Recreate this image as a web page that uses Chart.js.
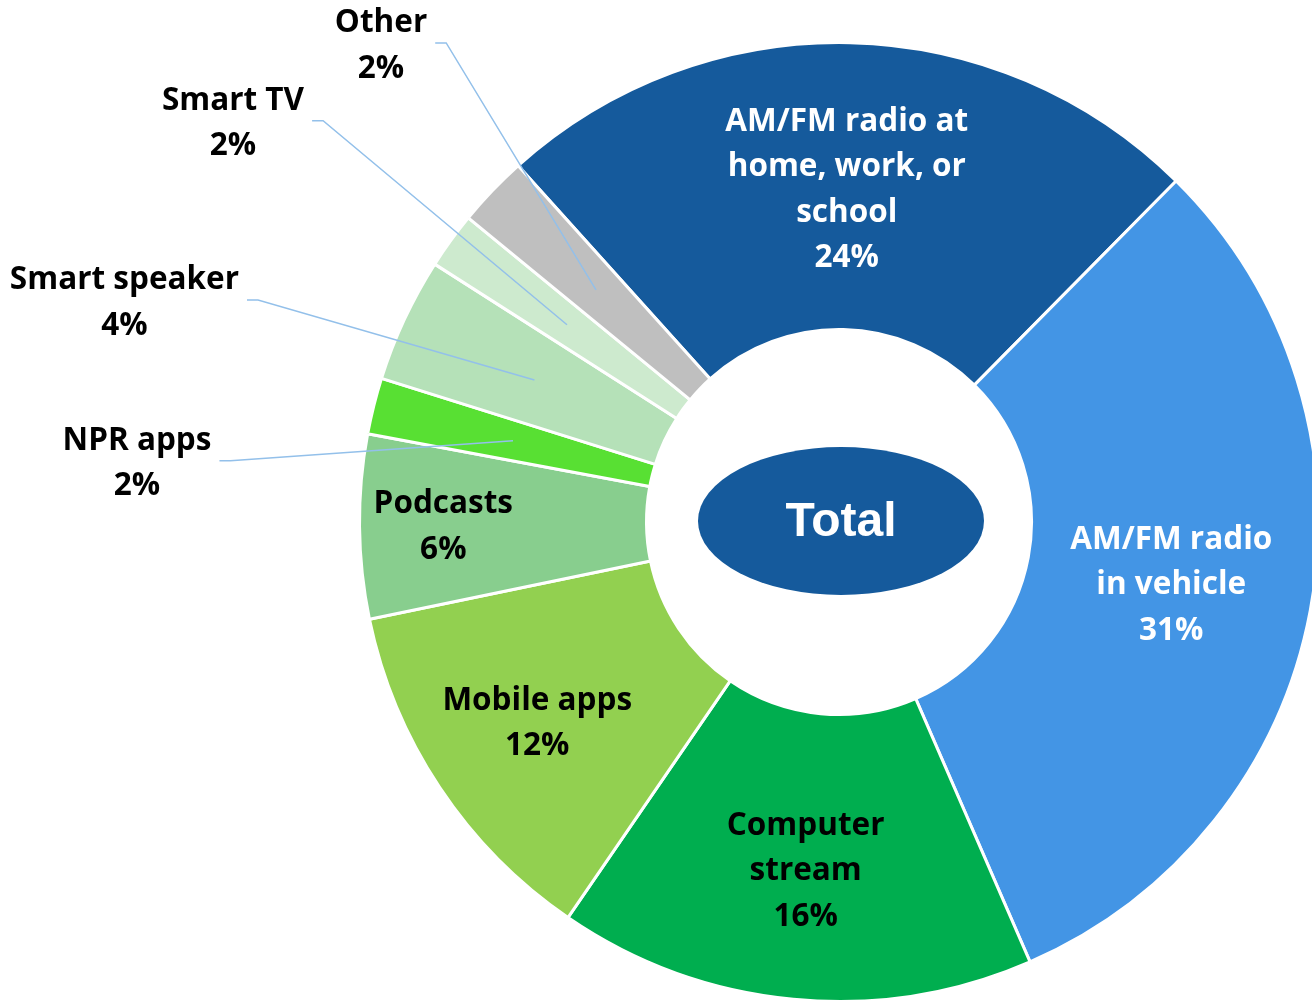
<!DOCTYPE html>
<html>
<head>
<meta charset="utf-8">
<script src="https://cdn.jsdelivr.net/npm/chart.js@4.4.1/dist/chart.umd.min.js"></script>
<style>
  html, body { margin: 0; padding: 0; background: #ffffff; overflow: hidden; }
  #wrap { position: relative; width: 1324px; height: 1006px; }
</style>
</head>
<body>
<div id="wrap"><canvas id="c"></canvas></div>
<script>
// ---- data ----
const categories = [
  "AM/FM radio at home, work, or school",
  "AM/FM radio in vehicle",
  "Computer stream",
  "Mobile apps",
  "Podcasts",
  "NPR apps",
  "Smart speaker",
  "Smart TV",
  "Other"
];
const shareValues = [24.1, 31.1, 16.1, 12.2, 6.2, 1.9, 4.2, 1.9, 2.4];
const labelLines = [
  ["AM/FM radio at", "home, work, or", "school"],
  ["AM/FM radio", "in vehicle"],
  ["Computer", "stream"],
  ["Mobile apps"],
  ["Podcasts"],
  ["NPR apps"],
  ["Smart speaker"],
  ["Smart TV"],
  ["Other"]
];
const centerTitle = "Total";

// ---- styles ----
const sliceColors = ["#155A9C", "#4395E5", "#00AE4F", "#92D050", "#88CE8E", "#58E033", "#B5E1B8", "#CDEACE", "#BFBFBF"];
const textColors = ["#ffffff", "#ffffff", "#000000", "#000000", "#000000", "#000000", "#000000", "#000000", "#000000"];
const labelLayout = [
  { kind: "inside", t: 0.49 },
  { kind: "inside", t: 0.507 },
  { kind: "inside", t: 0.5475 },
  { kind: "inside", t: 0.592 },
  { kind: "inside", t: 0.708 },
  { kind: "outside", dx: -376, dy: 22 },
  { kind: "outside", dx: -410, dy: -78 },
  { kind: "outside", dx: -334, dy: -202 },
  { kind: "outside", dx: -215, dy: -245 }
];
const LABEL_FONT = "bold 31.5px 'Open Sans'";
const LINE_H = 45.5;
const TEXT_DY = 1;

const pctText = v => Math.round(v) + "%";

const labelPlugin = {
  id: "sliceLabels",
  afterDatasetsDraw(chart) {
    const ctx = chart.ctx;
    const meta = chart.getDatasetMeta(0);
    const ds = chart.data.datasets[0];
    // center ellipse
    const a0 = meta.data[0];
    const cx = a0.x, cy = a0.y;
    ctx.save();
    ctx.fillStyle = sliceColors[0];
    ctx.beginPath();
    ctx.ellipse(cx + 2, cy - 1, 143, 74, 0, 0, Math.PI * 2);
    ctx.fill();
    ctx.fillStyle = "#ffffff";
    ctx.font = "bold 48px 'Liberation Sans', Arial, sans-serif";
    ctx.textAlign = "center";
    ctx.textBaseline = "middle";
    ctx.fillText(centerTitle, cx + 2, cy + 1);
    ctx.restore();

    meta.data.forEach((arc, i) => {
      const p = arc.getProps(["x", "y", "startAngle", "endAngle", "innerRadius", "outerRadius"], true);
      const mid = (p.startAngle + p.endAngle) / 2;
      const cfg = labelLayout[i];
      const lines = labelLines[i].concat([pctText(ds.data[i])]);
      ctx.save();
      ctx.font = LABEL_FONT;
      ctx.textAlign = "center";
      ctx.textBaseline = "middle";
      ctx.fillStyle = textColors[i];
      let bx, by;
      if (cfg.kind === "inside") {
        const r = p.innerRadius + cfg.t * (p.outerRadius - p.innerRadius);
        bx = p.x + r * Math.cos(mid);
        by = p.y + r * Math.sin(mid);
      } else {
        const r = (p.innerRadius + p.outerRadius) / 2;
        const ax = p.x + r * Math.cos(mid);
        const ay = p.y + r * Math.sin(mid);
        bx = ax + cfg.dx;
        by = ay + cfg.dy;
        let w = 0;
        lines.forEach(s => { w = Math.max(w, ctx.measureText(s).width); });
        const sx = bx + w / 2 + 8, sy = by - 2;
        ctx.strokeStyle = "#93C0EA";
        ctx.lineWidth = 1.5;
        ctx.beginPath();
        ctx.moveTo(sx, sy);
        ctx.lineTo(sx + 11, sy);
        ctx.lineTo(ax, ay);
        ctx.stroke();
      }
      const top = by - (lines.length - 1) * LINE_H / 2 + TEXT_DY;
      lines.forEach((s, k) => ctx.fillText(s, bx, top + k * LINE_H));
      ctx.restore();
    });
  }
};

new Chart(document.getElementById("c"), {
  type: "doughnut",
  data: {
    labels: categories,
    datasets: [{
      data: shareValues,
      backgroundColor: sliceColors,
      borderColor: "#ffffff",
      borderWidth: 3,
      hoverBorderWidth: 3,
      hoverOffset: 0
    }]
  },
  options: {
    responsive: true,
    maintainAspectRatio: false,
    animation: false,
    rotation: -42,
    cutout: "40.15%",
    layout: { padding: { left: 358, top: 41, right: 4, bottom: 3 } },
    plugins: { legend: { display: false }, tooltip: { enabled: false } },
    events: []
  },
  plugins: [labelPlugin]
});
</script>
</body>
</html>
